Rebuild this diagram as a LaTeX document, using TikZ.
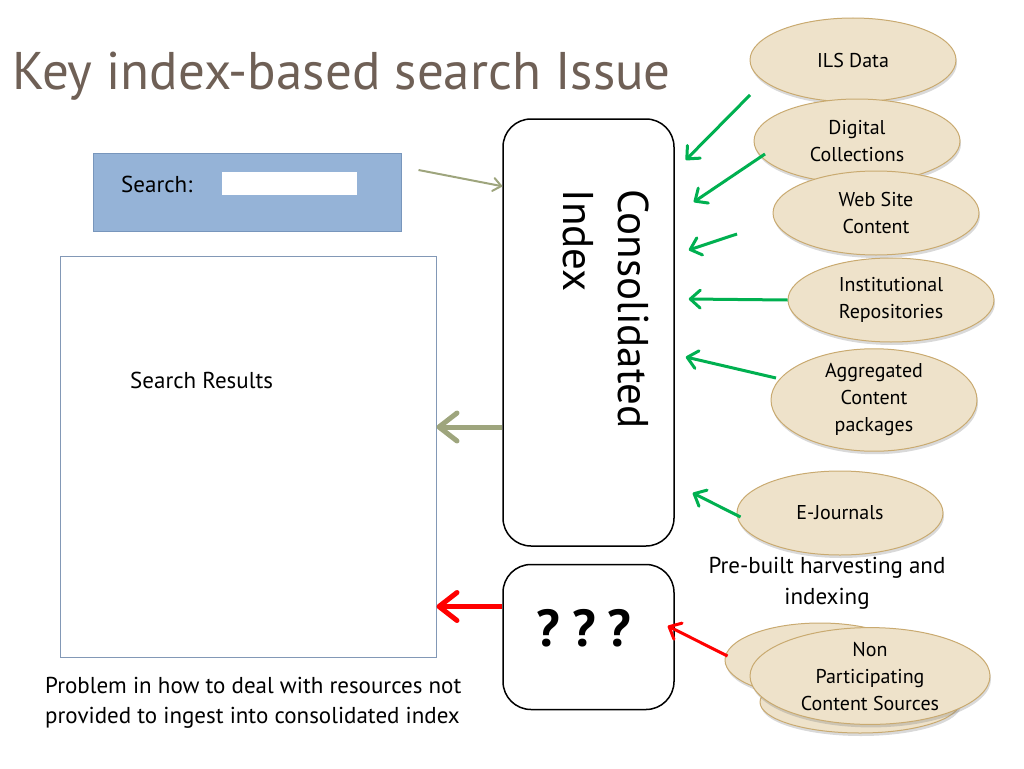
\documentclass[tikz,border=0pt]{standalone}
\usepackage{fontspec}
\setmainfont{PT Sans}
\usetikzlibrary{positioning,shapes.geometric,shadows,arrows.meta,calc}

\definecolor{titlegray}{RGB}{111,96,86}
\definecolor{feedgreen}{RGB}{0,176,80}
\definecolor{pathgray}{RGB}{158,165,125}
\definecolor{searchblue}{RGB}{149,179,215}
\definecolor{searchedge}{RGB}{120,150,188}
\definecolor{resultedge}{RGB}{130,152,182}
\definecolor{srcfill}{RGB}{238,226,202}
\definecolor{srcedge}{RGB}{201,170,112}

\tikzset{
  source/.style={ellipse, draw=srcedge, fill=srcfill, line width=1pt, inner sep=0pt,
    minimum width=206pt, minimum height=84pt, align=center,
    font=\fontsize{20}{27}\selectfont,
    drop shadow={shadow xshift=1pt, shadow yshift=-3pt, opacity=0.3}},
  indexbox/.style={draw, line width=1.5pt, rounded corners=28pt, minimum width=171pt},
  feed/.style={-{Straight Barb[round,length=10pt,width=18pt]}, feedgreen, line width=3pt},
  redfeed/.style={-{Straight Barb[round,length=10pt,width=18pt]}, red, line width=3pt},
  query/.style={-{Straight Barb[round,length=8pt,width=13pt]}, pathgray, line width=2pt},
  result/.style={-{Straight Barb[round,length=18pt,width=28pt]}, pathgray, line width=5pt},
  missing/.style={-{Straight Barb[round,length=18pt,width=28pt]}, red, line width=5pt}
}

\begin{document}
\begin{tikzpicture}[x=1pt,y=-1pt]
  \useasboundingbox (0,0) rectangle (1024,768);

  \node[anchor=base west, inner sep=0pt, text=titlegray,
    font=\fontsize{53}{58}\selectfont] (title) at (12,89) {Key index-based search Issue};

  % search form and results
  \node[draw=searchedge, fill=searchblue, line width=1pt,
    minimum width=308pt, minimum height=78pt] (search) at (247,192) {};
  \node[anchor=west, inner sep=0pt, font=\fontsize{23}{27}\selectfont] (searchlabel) at (121,184) {Search:};
  \node[fill=white, inner sep=0pt, minimum width=135pt, minimum height=23pt] (field) at (289.5,183.5) {};

  \node[draw=resultedge, line width=1pt, minimum width=376pt, minimum height=401pt] (results) at (248,456.5) {};
  \node[anchor=west, inner sep=0pt, font=\fontsize{23}{27}\selectfont] (resultlabel) at (130,380) {Search Results};

  % index
  \node[indexbox, minimum height=427pt] (index) at (588.5,332.5) {};
  \node[rotate=-90, align=left, inner sep=0pt, font=\fontsize{43}{55}\selectfont] (indexlabel) at (606,309) {Consolidated\\Index};

  \node[indexbox, minimum height=145pt, below=17pt of index] (qbox) {};
  \node[font=\bfseries\fontsize{52}{56}\selectfont] (qmarks) at (584,628) {?\hspace{12pt}?\hspace{12pt}?};

  % sources
  \node[source] (ils) at (853,60) {ILS Data};
  \node[source] (digital) at (857,141) {Digital\\Collections};
  \node[source] (web) at (876,213) {Web Site\\Content};
  \node[source] (inst) at (891,300) {Institutional\\Repositories};
  \node[source] (aggr) at (874,400) {Aggregated\\Content\\packages};
  \node[source] (ejournal) at (840,513) {E-Journals};

  \node[source, minimum width=190pt, minimum height=74pt] (nonback) at (820,660) {};
  \node[source, minimum width=200pt, minimum height=62pt] (nonbase) at (860,702) {};
  \node[source, minimum width=240pt, minimum height=84pt] (nonpart) at (870,676) {Non\\Participating\\Content Sources};

  \node[align=center, font=\fontsize{23}{31}\selectfont] (prebuilt) at (827,583) {Pre-built harvesting and\\indexing};
  \node[anchor=west, align=left, inner sep=0pt, font=\fontsize{23}{30}\selectfont] (problem) at (45,703)
    {Problem in how to deal with resources not\\provided to ingest into consolidated index};

  % connectors
  \draw[query] ($(search.east)+(17,-22)$) -- ($(index.north west)+(0,68)$);
  \draw[result] ($(index.west)+(0,94.5)$) coordinate (out1) -- (out1 -| results.east);
  \draw[missing] ($(qbox.west)+(0,-30.5)$) coordinate (out2) -- (out2 -| results.east);

  \draw[feed] ($(ils.center)+(-103,35)$) -- ($(index.east)+(11,-172.5)$);
  \draw[feed] ($(digital.center)+(-92,13)$) -- ($(index.east)+(19,-130.5)$);
  \draw[feed] ($(web.center)+(-139,21)$) -- ($(index.east)+(14,-82.5)$);
  \draw[feed] (inst.west) -- ($(index.east)+(14,-33.5)$);
  \draw[feed] ($(aggr.center)+(-98,-22)$) -- ($(index.east)+(11,24.5)$);
  \draw[feed] ($(ejournal.west)+(4,4)$) -- ($(index.east)+(18,160.5)$);
  \draw[redfeed] ($(nonback.west)+(3,-4)$) -- ($(qbox.east)+(-7,-11)$);
\end{tikzpicture}
\end{document}
